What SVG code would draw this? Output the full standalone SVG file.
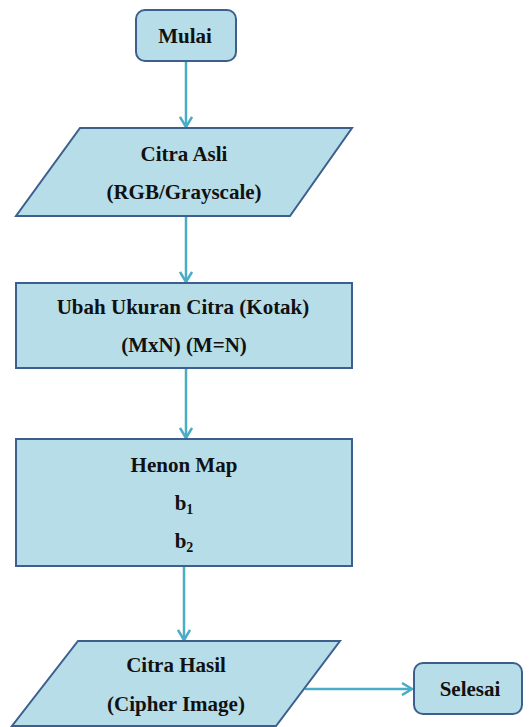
<svg xmlns="http://www.w3.org/2000/svg" width="530" height="727" viewBox="0 0 530 727">
  <style>
    .shape { fill: #b7dde8; stroke: #3c5f8e; stroke-width: 2; }
    .label { fill: #111; text-anchor: middle; }
    .link { fill: none; stroke: #4bacc6; stroke-width: 2.5; }
  </style>
  <defs>
    <marker id="arrow" markerWidth="14" markerHeight="14" refX="11" refY="7" orient="auto" markerUnits="userSpaceOnUse">
      <path d="M1,1 L11,7 L1,13" fill="none" stroke="#4bacc6" stroke-width="2.5"/>
    </marker>
  </defs>

  <g id="connectors">
    <line class="link" x1="186" y1="62" x2="186" y2="127" marker-end="url(#arrow)"/>
    <line class="link" x1="186" y1="217" x2="186" y2="282" marker-end="url(#arrow)"/>
    <line class="link" x1="186" y1="369" x2="186" y2="438" marker-end="url(#arrow)"/>
    <line class="link" x1="184" y1="567" x2="184" y2="640" marker-end="url(#arrow)"/>
    <line class="link" x1="305" y1="689" x2="412" y2="689" marker-end="url(#arrow)"/>
  </g>

  <g id="mulai">
    <rect class="shape" x="136" y="10" width="100" height="51" rx="9"/>
    <text class="label" x="185" y="43" font-family="Liberation Serif" font-weight="bold" font-size="21">Mulai</text>
  </g>

  <g id="citra-asli">
    <polygon class="shape" points="80,128 352,128 290,216 16,216"/>
    <text class="label" x="184" y="161" font-family="Liberation Serif" font-weight="bold" font-size="21">Citra Asli</text>
    <text class="label" x="184" y="199" font-family="Liberation Serif" font-weight="bold" font-size="21">(RGB/Grayscale)</text>
  </g>

  <g id="ubah-ukuran">
    <rect class="shape" x="16" y="283" width="336" height="85"/>
    <text class="label" x="183" y="314" font-family="Liberation Serif" font-weight="bold" font-size="21">Ubah Ukuran Citra (Kotak)</text>
    <text class="label" x="184" y="352" font-family="Liberation Serif" font-weight="bold" font-size="21">(MxN) (M=N)</text>
  </g>

  <g id="henon-map">
    <rect class="shape" x="16" y="439" width="336" height="127"/>
    <text class="label" x="184" y="472" font-family="Liberation Serif" font-weight="bold" font-size="21">Henon Map</text>
    <text class="label" x="184" y="510" font-family="Liberation Serif" font-weight="bold" font-size="21">b<tspan font-size="14" dy="4">1</tspan></text>
    <text class="label" x="184" y="548" font-family="Liberation Serif" font-weight="bold" font-size="21">b<tspan font-size="14" dy="4">2</tspan></text>
  </g>

  <g id="citra-hasil">
    <polygon class="shape" points="78,641 340,641 276,726 12,726"/>
    <text class="label" x="176" y="672" font-family="Liberation Serif" font-weight="bold" font-size="21">Citra Hasil</text>
    <text class="label" x="176" y="711" font-family="Liberation Serif" font-weight="bold" font-size="21">(Cipher Image)</text>
  </g>

  <g id="selesai">
    <rect class="shape" x="414" y="663" width="108" height="51" rx="9"/>
    <text class="label" x="470" y="696" font-family="Liberation Serif" font-weight="bold" font-size="21">Selesai</text>
  </g>
</svg>
